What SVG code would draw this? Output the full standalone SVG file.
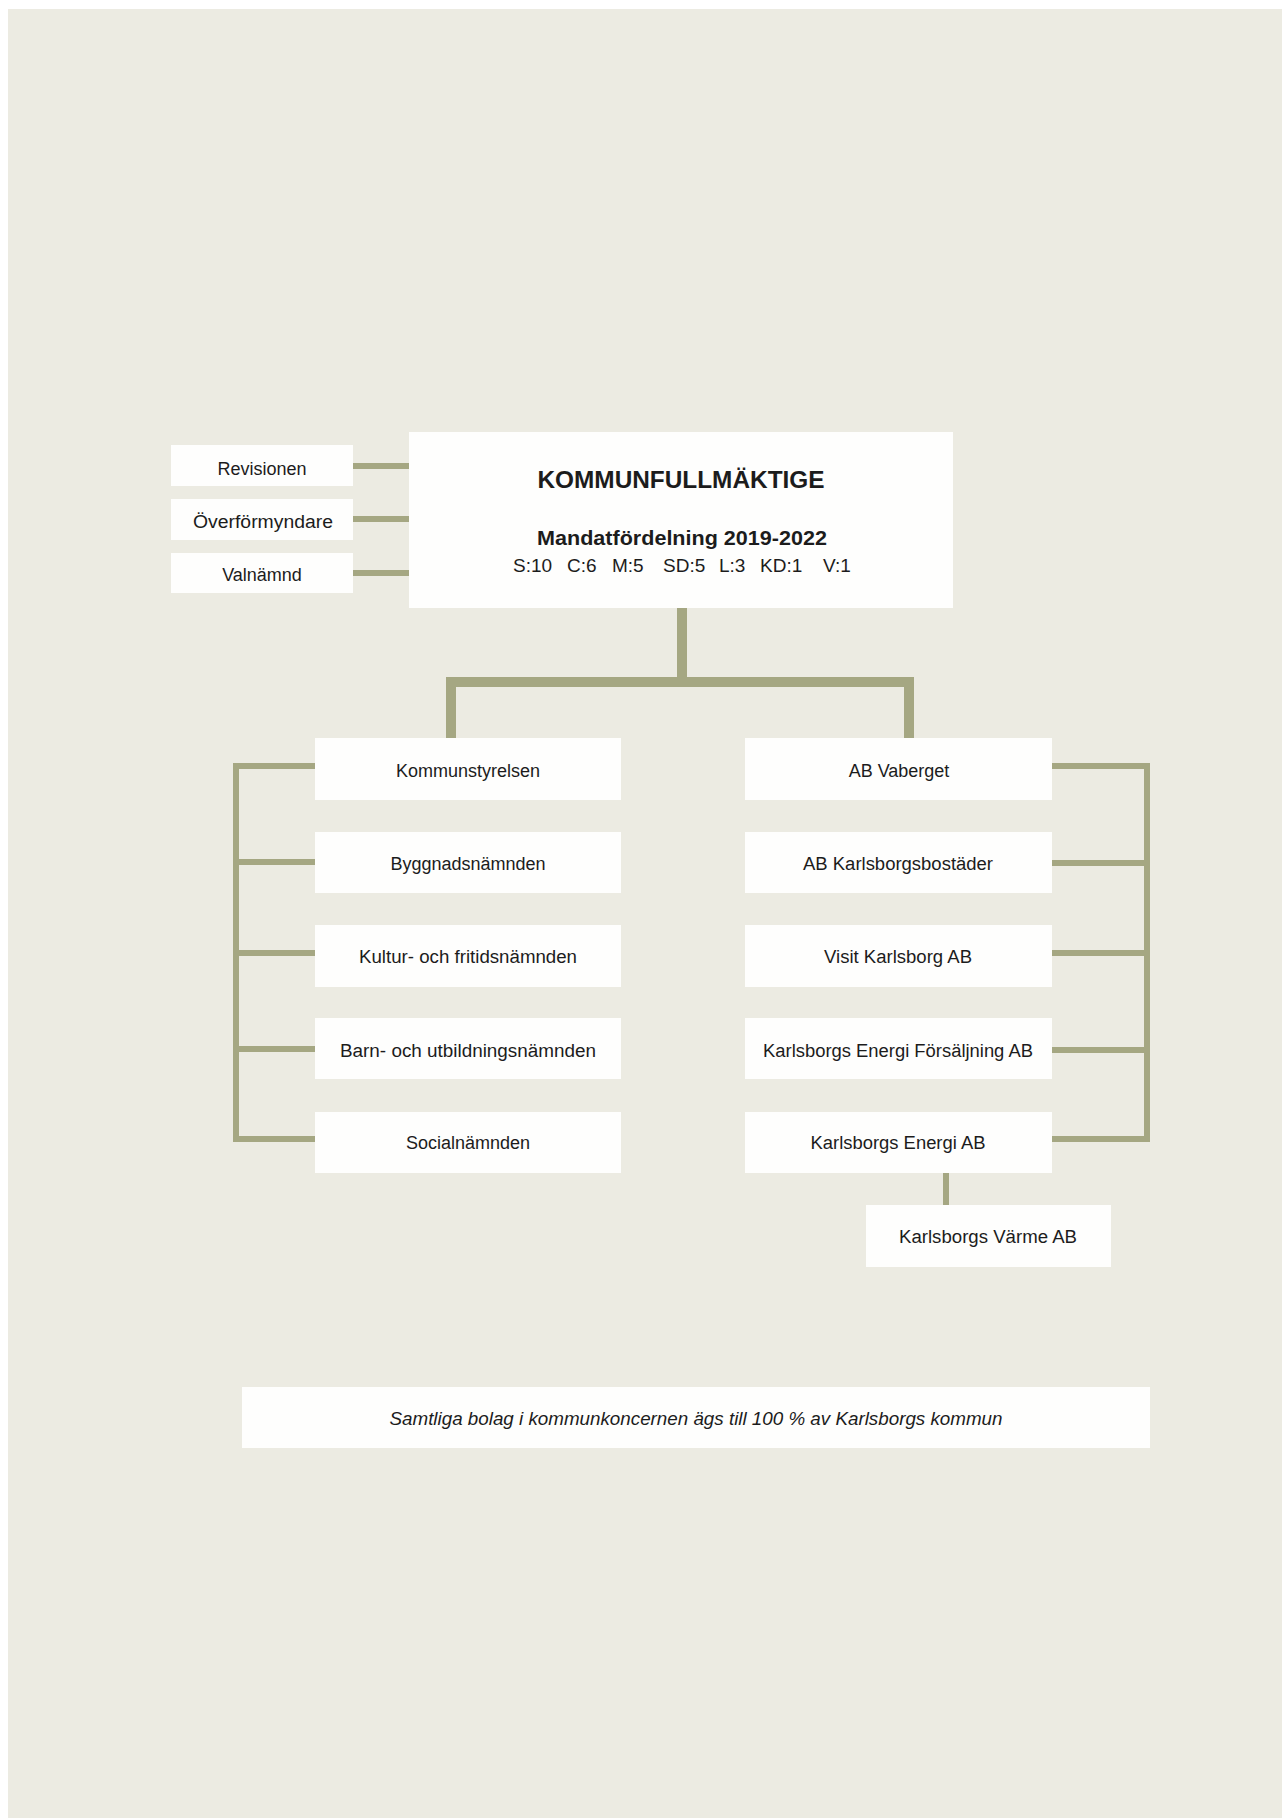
<svg xmlns="http://www.w3.org/2000/svg" width="1282" height="1818" viewBox="0 0 1282 1818">
<style>
.bg{fill:#ecebe2}
.box{fill:#fefefd}
.t{font-family:"Liberation Sans",Arial,sans-serif;font-size:18px;fill:#1c1c1c;text-anchor:middle}
.title{font-family:"Liberation Sans",Arial,sans-serif;font-size:24px;font-weight:bold;fill:#1c1c1c;text-anchor:middle}
.sub{font-family:"Liberation Sans",Arial,sans-serif;font-size:21px;font-weight:bold;fill:#1c1c1c;text-anchor:middle}
.mand{font-family:"Liberation Sans",Arial,sans-serif;font-size:19px;fill:#1c1c1c;text-anchor:start}
.note{font-family:"Liberation Sans",Arial,sans-serif;font-size:18px;font-style:italic;fill:#1c1c1c;text-anchor:middle}
.c{fill:none;stroke:#a5a782;stroke-linejoin:miter;stroke-linecap:butt}
.thin{stroke-width:6}
.thick{stroke-width:10}
</style>
<rect x="0" y="0" width="1282" height="1818" fill="#ffffff"/>
<rect class="bg" x="8" y="9" width="1274" height="1809"/>

<g id="connectors">
  <path class="c thin" d="M353,466 H409 M353,519 H409 M353,573 H409"/>
  <path class="c thick" d="M682,608 V682"/>
  <path class="c thick" d="M451,738 V682 H909 V738"/>
  <path class="c thin" d="M315,766 H236 V1139 H315 M236,862 H315 M236,953 H315 M236,1049 H315"/>
  <path class="c thin" d="M1052,766 H1147 V1139 H1052 M1147,863 H1052 M1147,953 H1052 M1147,1050 H1052"/>
  <path class="c thin" d="M946,1173 V1205"/>
</g>

<g id="kommunfullmaktige">
  <rect class="box" x="409" y="432" width="544" height="176"/>
  <text class="title" x="681" y="488" textLength="287" lengthAdjust="spacingAndGlyphs">KOMMUNFULLMÄKTIGE</text>
  <text class="sub" x="682" y="545" textLength="290" lengthAdjust="spacingAndGlyphs">Mandatfördelning 2019-2022</text>
  <text class="mand" y="572"><tspan x="513">S:10</tspan><tspan x="567">C:6</tspan><tspan x="612">M:5</tspan><tspan x="663">SD:5</tspan><tspan x="719">L:3</tspan><tspan x="760">KD:1</tspan><tspan x="823">V:1</tspan></text>
</g>

<g id="revisionen">
  <rect class="box" x="171" y="445" width="182" height="41"/>
  <text class="t" x="262" y="475">Revisionen</text>
</g>
<g id="overformyndare">
  <rect class="box" x="171" y="499" width="182" height="41"/>
  <text class="t" x="263" y="528" textLength="140" lengthAdjust="spacingAndGlyphs">Överförmyndare</text>
</g>
<g id="valnamnd">
  <rect class="box" x="171" y="553" width="182" height="40"/>
  <text class="t" x="262" y="581">Valnämnd</text>
</g>

<g id="kommunstyrelsen">
  <rect class="box" x="315" y="738" width="306" height="62"/>
  <text class="t" x="468" y="777">Kommunstyrelsen</text>
</g>
<g id="byggnadsnamnden">
  <rect class="box" x="315" y="832" width="306" height="61"/>
  <text class="t" x="468" y="870">Byggnadsnämnden</text>
</g>
<g id="kultur">
  <rect class="box" x="315" y="925" width="306" height="62"/>
  <text class="t" x="468" y="963" textLength="218" lengthAdjust="spacingAndGlyphs">Kultur- och fritidsnämnden</text>
</g>
<g id="barn">
  <rect class="box" x="315" y="1018" width="306" height="61"/>
  <text class="t" x="468" y="1057" textLength="256" lengthAdjust="spacingAndGlyphs">Barn- och utbildningsnämnden</text>
</g>
<g id="socialnamnden">
  <rect class="box" x="315" y="1112" width="306" height="61"/>
  <text class="t" x="468" y="1149">Socialnämnden</text>
</g>

<g id="vaberget">
  <rect class="box" x="745" y="738" width="307" height="62"/>
  <text class="t" x="899" y="777">AB Vaberget</text>
</g>
<g id="bostader">
  <rect class="box" x="745" y="832" width="307" height="61"/>
  <text class="t" x="898" y="870" textLength="190" lengthAdjust="spacingAndGlyphs">AB Karlsborgsbostäder</text>
</g>
<g id="visit">
  <rect class="box" x="745" y="925" width="307" height="62"/>
  <text class="t" x="898" y="963" textLength="148" lengthAdjust="spacingAndGlyphs">Visit Karlsborg AB</text>
</g>
<g id="forsaljning">
  <rect class="box" x="745" y="1018" width="307" height="61"/>
  <text class="t" x="898" y="1057" textLength="270" lengthAdjust="spacingAndGlyphs">Karlsborgs Energi Försäljning AB</text>
</g>
<g id="energi">
  <rect class="box" x="745" y="1112" width="307" height="61"/>
  <text class="t" x="898" y="1149" textLength="175" lengthAdjust="spacingAndGlyphs">Karlsborgs Energi AB</text>
</g>
<g id="varme">
  <rect class="box" x="866" y="1205" width="245" height="62"/>
  <text class="t" x="988" y="1243" textLength="178" lengthAdjust="spacingAndGlyphs">Karlsborgs Värme AB</text>
</g>

<g id="note">
  <rect class="box" x="242" y="1387" width="908" height="61"/>
  <text class="note" x="696" y="1425" textLength="613" lengthAdjust="spacingAndGlyphs">Samtliga bolag i kommunkoncernen ägs till 100 % av Karlsborgs kommun</text>
</g>
</svg>
